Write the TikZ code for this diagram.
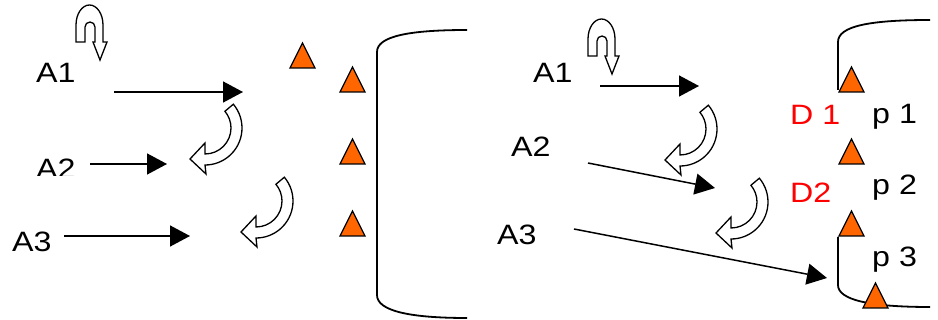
\documentclass[tikz,border=0pt]{standalone}
\usepackage{fontspec}
\setmainfont{Liberation Sans}[FakeStretch=1.15]
\usetikzlibrary{arrows.meta}
\definecolor{triorange}{HTML}{FF6600}
\newcommand\curvarr[1]{%
  \begin{scope}[shift={#1}]
    \draw[blockarrow] (-40:37) arc[start angle=-40,end angle=90,radius=37]
      -- (1,46) -- (-15,31) -- (0,15) -- (0,26)
      arc[start angle=90,end angle=-40,radius=26] -- cycle;
  \end{scope}}
\newcommand\looparr[1]{%
  \begin{scope}[shift={#1}]
    \draw[blockarrow] (76,42) -- (76,25)
      arc[start angle=180,end angle=360,x radius=13.5,y radius=20]
      -- (103,42) -- (107,42) -- (100,60) -- (93,42) -- (95,42) -- (95,27)
      arc[start angle=0,end angle=-180,x radius=5,y radius=5]
      -- (85,42) -- cycle;
  \end{scope}}
\newcommand\tri[1]{%
  \begin{scope}[shift={#1}]
    \draw[trishape] (0,0) -- (25,0) -- (12.5,-25) -- cycle;
  \end{scope}}
\begin{document}
\begin{tikzpicture}[x=1pt,y=-1pt,
  lab/.style={font=\fontsize{28}{30}\selectfont, inner sep=0pt, anchor=base west},
  redlab/.style={lab, text=red},
  conn/.style={line width=1.5pt, -{Triangle[length=20pt,width=21pt]}},
  trishape/.style={draw=black, fill=triorange, line width=1.3pt, line join=miter},
  bracket/.style={line width=1.8pt},
  blockarrow/.style={draw=black, fill=white, line width=1.3pt, line join=miter}]
\useasboundingbox (0,0) rectangle (938,320);

% ---------- left panel ----------
\looparr{(0,0)}
\node[lab] (a1L) at (36,83) {A1};
\begin{scope}
  \clip (0,0) rectangle (120,176);
  \node[lab] (a2L) at (36,179) {A2};
\end{scope}
\node[lab] (a3L) at (12,252) {A3};

\coordinate (l1s) at (114,92);  \coordinate (l1e) at (243,92);
\coordinate (l2s) at (90,164);  \coordinate (l2e) at (167,164);
\coordinate (l3s) at (64,236);  \coordinate (l3e) at (190,236);
\draw[conn] (l1s) -- (l1e);
\draw[conn] (l2s) -- (l2e);
\draw[conn] (l3s) -- (l3e);

\curvarr{(205,128)}
\curvarr{(256,201)}

\draw[bracket] (467,30) .. controls (410,30) and (377,36) .. (377,52)
  -- (377,295) .. controls (377,311) and (410,318) .. (467,318);

\tri{(290,68)}
\tri{(340,92)}
\tri{(340,164)}
\tri{(340,236)}

% ---------- right panel ----------
\looparr{(512,14)}
\node[lab] (a1R) at (533,83) {A1};
\node[lab] (a2R) at (511,157) {A2};
\node[lab] (a3R) at (497,245) {A3};

\coordinate (r1s) at (600,86);  \coordinate (r1e) at (699,86);
\coordinate (r2s) at (588,163); \coordinate (r2e) at (715,188);
\coordinate (r3s) at (574,229); \coordinate (r3e) at (827,278);
\draw[conn] (r1s) -- (r1e);
\draw[conn] (r2s) -- (r2e);
\draw[conn] (r3s) -- (r3e);

\curvarr{(680,129)}
\curvarr{(731,202)}

\draw[bracket] (930,20) .. controls (870,20) and (838,26) .. (838,42) -- (838,90);
\draw[bracket] (838,237) -- (838,285) .. controls (838,300) and (870,307) .. (930,307);

\tri{(839,92)}
\tri{(839,164)}
\tri{(839,236)}
\tri{(863,308)}

\node[redlab] (d1) at (790,125) {D 1};
\node[redlab] (d2) at (790,203) {D2};
\node[lab] (p1) at (872,124) {p 1};
\node[lab] (p2) at (872,195) {p 2};
\node[lab] (p3) at (872,267) {p 3};
\end{tikzpicture}
\end{document}
